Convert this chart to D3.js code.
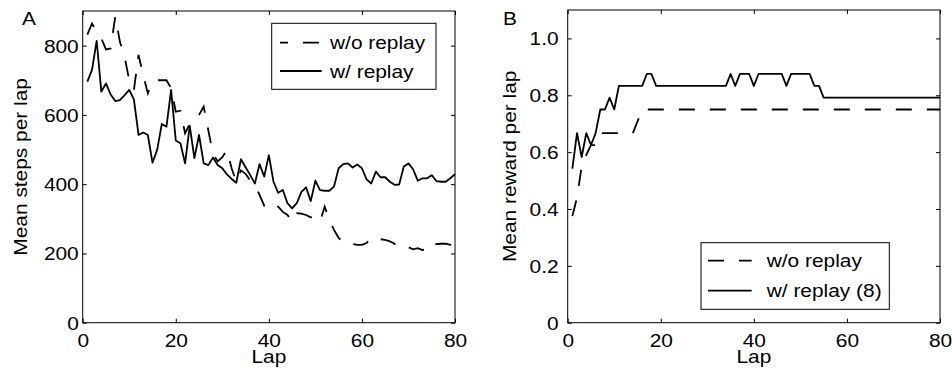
<!DOCTYPE html>
<html>
<head>
<meta charset="utf-8">
<script src="https://cdn.jsdelivr.net/npm/d3@7"></script>
<style>
  body { margin: 0; background: #fff; }
  svg text { font-family: "Liberation Sans", Arial, sans-serif; fill: #000; }
</style>
</head>
<body>
<div id="chart"></div>
<script>
// ---------------------------------------------------------------
// DATA
// ---------------------------------------------------------------
var laps = d3.range(1, 81);

var stepsNoReplay = [832, 864, 840, 821, 789, 792, 884, 811, 768, 700,
                     672, 773, 715, 662, 696, 700, 700, 700, 677, 609,
                     612, 547, 574, 580, 600, 624, 555, 487, 466, 478,
                     499, 446, 407, 440, 430, 410, 398, 369, 338, 340,
                     327, 335, 320, 311, 292, 316, 315, 311, 304, 304,
                     292, 335, 296, 268, 245, 231, 234, 227, 225, 225,
                     230, 246, 248, 241, 239, 235, 228, 215, 219, 218,
                     212, 215, 210, 212, 231, 227, 228, 228, 225, 227];

var stepsReplay = [696, 730, 814, 667, 691, 659, 640, 643, 657, 672,
                   645, 542, 549, 542, 462, 499, 574, 566, 672, 526,
                   518, 460, 568, 475, 542, 460, 455, 477, 455, 446,
                   428, 415, 404, 472, 449, 426, 402, 458, 422, 484,
                   407, 375, 383, 345, 330, 345, 378, 391, 351, 410,
                   383, 381, 381, 393, 446, 458, 460, 448, 457, 446,
                   414, 402, 436, 420, 420, 407, 398, 399, 451, 460,
                   443, 410, 417, 417, 426, 409, 407, 407, 417, 429];

var rewardNoReplay = [0.375, 0.44, 0.55, 0.59, 0.625, 0.625, 0.667, 0.667, 0.667, 0.667,
                      0.667, 0.667, 0.667, 0.667, 0.708, 0.75, 0.75, 0.75, 0.75, 0.75,
                      0.75, 0.75, 0.75, 0.75, 0.75, 0.75, 0.75, 0.75, 0.75, 0.75,
                      0.75, 0.75, 0.75, 0.75, 0.75, 0.75, 0.75, 0.75, 0.75, 0.75,
                      0.75, 0.75, 0.75, 0.75, 0.75, 0.75, 0.75, 0.75, 0.75, 0.75,
                      0.75, 0.75, 0.75, 0.75, 0.75, 0.75, 0.75, 0.75, 0.75, 0.75,
                      0.75, 0.75, 0.75, 0.75, 0.75, 0.75, 0.75, 0.75, 0.75, 0.75,
                      0.75, 0.75, 0.75, 0.75, 0.75, 0.75, 0.75, 0.75, 0.75, 0.75];

var rewardReplay = [0.542, 0.667, 0.583, 0.667, 0.625, 0.667, 0.75, 0.75, 0.792, 0.75,
                    0.833, 0.833, 0.833, 0.833, 0.833, 0.833, 0.875, 0.875, 0.833, 0.833,
                    0.833, 0.833, 0.833, 0.833, 0.833, 0.833, 0.833, 0.833, 0.833, 0.833,
                    0.833, 0.833, 0.833, 0.833, 0.875, 0.833, 0.875, 0.875, 0.875, 0.833,
                    0.875, 0.875, 0.875, 0.875, 0.875, 0.875, 0.833, 0.875, 0.875, 0.875,
                    0.875, 0.875, 0.833, 0.833, 0.792, 0.792, 0.792, 0.792, 0.792, 0.792,
                    0.792, 0.792, 0.792, 0.792, 0.792, 0.792, 0.792, 0.792, 0.792, 0.792,
                    0.792, 0.792, 0.792, 0.792, 0.792, 0.792, 0.792, 0.792, 0.792, 0.792];

var xTicks = [0, 20, 40, 60, 80];
var stepTicks = [0, 200, 400, 600, 800];
var rewardTicks = [0, 0.2, 0.4, 0.6, 0.8, 1.0];

// ---------------------------------------------------------------
// DRAW
// ---------------------------------------------------------------
var W = 952, H = 377;
var FS = 18.5;          // font size
var STRETCH = "scale(1.13,1)";
var DASH = "16,15";

var svg = d3.select("#chart").append("svg")
    .attr("width", W)
    .attr("height", H);

function drawPanel(p) {
    var x = d3.scaleLinear().domain([0, 80]).range([p.left, p.right]);
    var y = d3.scaleLinear().domain([0, p.ymax]).range([p.bottom, p.top]);
    var g = svg.append("g");

    // box
    g.append("rect")
        .attr("x", p.left).attr("y", p.top)
        .attr("width", p.right - p.left).attr("height", p.bottom - p.top)
        .attr("fill", "none").attr("stroke", "#000").attr("stroke-width", 1);

    // axes
    var ax = g.append("g").attr("transform", "translate(0," + p.bottom + ")")
        .call(d3.axisBottom(x).tickValues(xTicks).tickSizeInner(-4).tickSizeOuter(0).tickPadding(11));
    var ay = g.append("g").attr("transform", "translate(" + p.left + ",0)")
        .call(d3.axisLeft(y).tickValues(p.yTicks).tickFormat(p.fmt).tickSizeInner(-4).tickSizeOuter(0).tickPadding(p.ypad));
    // mirrored ticks
    g.append("g").attr("transform", "translate(0," + p.top + ")")
        .call(d3.axisTop(x).tickValues(xTicks).tickSizeInner(-4).tickSizeOuter(0).tickFormat(""));
    g.append("g").attr("transform", "translate(" + p.right + ",0)")
        .call(d3.axisRight(y).tickValues(p.yTicks).tickSizeInner(-4).tickSizeOuter(0).tickFormat(""));

    g.selectAll(".domain").remove();
    g.selectAll(".tick line").attr("stroke", "#000");
    ax.selectAll("text").attr("font-size", FS).attr("dy", "0.71em").attr("transform", STRETCH);
    ay.selectAll("text").attr("font-size", FS).attr("dy", "0.35em").attr("transform", STRETCH);
    g.selectAll(".tick text").style("font-family", "'Liberation Sans', Arial, sans-serif").attr("fill", "#000");

    // lines
    var line = d3.line()
        .x(function(d, i) { return x(laps[i]); })
        .y(function(d) { return y(d); });

    g.append("path").datum(p.dashed)
        .attr("d", line).attr("fill", "none")
        .attr("stroke", "#000").attr("stroke-width", 1.8)
        .attr("stroke-dasharray", DASH);
    g.append("path").datum(p.solid)
        .attr("d", line).attr("fill", "none")
        .attr("stroke", "#000").attr("stroke-width", 1.8)
        .attr("stroke-linejoin", "round");

    // titles
    g.append("text")
        .attr("transform", "translate(" + ((p.left + p.right) / 2) + ",363) " + STRETCH)
        .attr("text-anchor", "middle").attr("font-size", FS)
        .text("Lap");
    g.append("text")
        .attr("transform", "translate(" + p.ytitleX + "," + ((p.top + p.bottom) / 2) + ") rotate(-90) " + STRETCH)
        .attr("text-anchor", "middle").attr("font-size", FS)
        .text(p.ytitle);
    g.append("text")
        .attr("transform", "translate(" + p.letterX + ",25) " + STRETCH)
        .attr("font-size", FS)
        .text(p.letter);

    // legend
    var L = p.legend;
    g.append("rect")
        .attr("x", L.x0).attr("y", L.y0)
        .attr("width", L.x1 - L.x0).attr("height", L.y1 - L.y0)
        .attr("fill", "#fff").attr("stroke", "#000").attr("stroke-width", 1);
    var items = [
        { label: L.labels[0], dash: DASH },
        { label: L.labels[1], dash: null }
    ];
    items.forEach(function(it, i) {
        var ly = L.rows[i];
        g.append("line")
            .attr("x1", L.lx0).attr("x2", L.lx1)
            .attr("y1", ly).attr("y2", ly)
            .attr("stroke", "#000").attr("stroke-width", 1.8)
            .attr("stroke-dasharray", it.dash)
            .attr("stroke-dashoffset", it.dash ? L.dashOffset : null);
        g.append("text")
            .attr("transform", "translate(" + L.tx + "," + (ly + 6.7) + ") " + STRETCH)
            .attr("font-size", FS)
            .text(it.label);
    });
}

drawPanel({
    left: 82.7, right: 455, top: 11, bottom: 322.7, ymax: 900,
    yTicks: stepTicks, fmt: d3.format("d"), ypad: 3.5,
    dashed: stepsNoReplay, solid: stepsReplay,
    ytitle: "Mean steps per lap", ytitleX: 27, letter: "A", letterX: 22,
    legend: { x0: 271.7, x1: 436, y0: 23.3, y1: 89.3, rows: [42.7, 71],
              lx0: 280, lx1: 321.7, tx: 330, dashOffset: 8,
              labels: ["w/o replay", "w/ replay"] }
});

drawPanel({
    left: 567.7, right: 940, top: 10, bottom: 322.7, ymax: 1.1,
    yTicks: rewardTicks, fmt: function(d) { return d === 0 ? "0" : d.toFixed(1); }, ypad: 8,
    dashed: rewardNoReplay, solid: rewardReplay,
    ytitle: "Mean reward per lap", ytitleX: 516, letter: "B", letterX: 503,
    legend: { x0: 701, x1: 889.3, y0: 242.7, y1: 309.3, rows: [260.7, 290.7],
              lx0: 708, lx1: 751.7, tx: 766.7, dashOffset: 0,
              labels: ["w/o replay", "w/ replay (8)"] }
});
</script>
</body>
</html>
